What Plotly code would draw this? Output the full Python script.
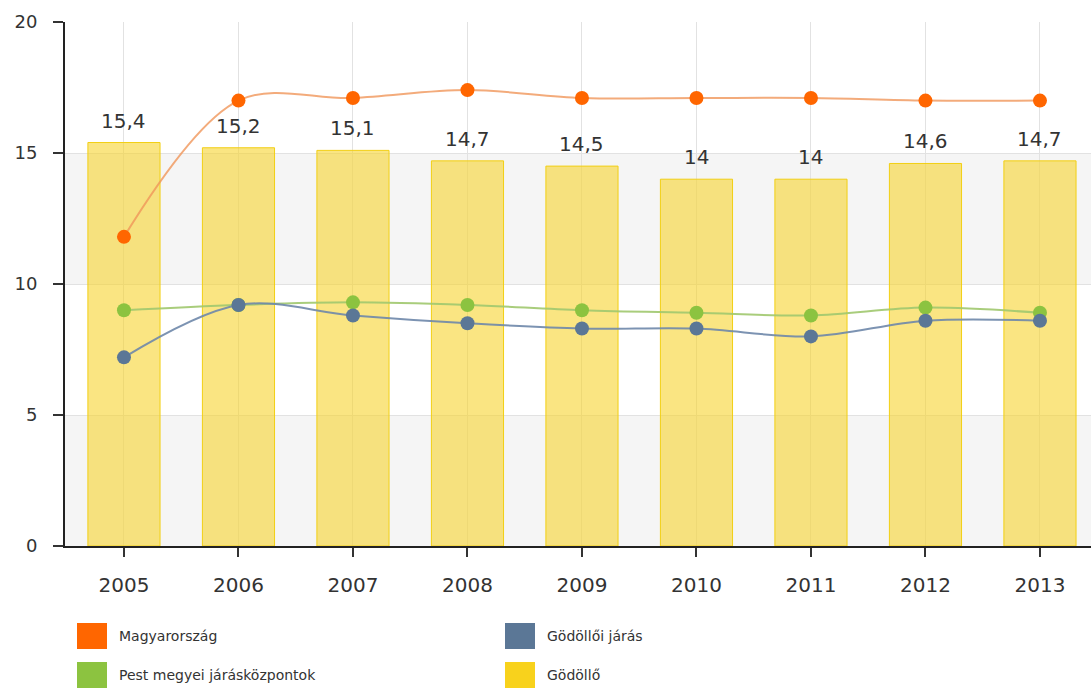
import plotly.graph_objects as go

years = ["2005", "2006", "2007", "2008", "2009", "2010", "2011", "2012", "2013"]
godollo = [15.4, 15.2, 15.1, 14.7, 14.5, 14.0, 14.0, 14.6, 14.7]
magyarorszag = [11.8, 17.0, 17.1, 17.4, 17.1, 17.1, 17.1, 17.0, 17.0]
pest_kozpontok = [9.0, 9.2, 9.3, 9.2, 9.0, 8.9, 8.8, 9.1, 8.9]
godolloi_jaras = [7.2, 9.2, 8.8, 8.5, 8.3, 8.3, 8.0, 8.6, 8.6]
y_ticks = [0, 5, 10, 15, 20]

legend_names = ["Magyarország", "Gödöllői járás", "Pest megyei járásközpontok", "Gödöllő"]
legend_colors = ["#ff6600", "#5b7796", "#8cc340", "#f8d21c"]

FONT = "DejaVu Sans"
W, H = 1091, 693
ML, MR, MT, MB = 65, 0, 22, 147
PW, PH = W - ML - MR, H - MT - MB
CAT = 114.5
X0 = -0.515


def fmt(v):
    return f"{v:g}".replace(".", ",")


fig = go.Figure()

fig.add_trace(go.Bar(
    x=years, y=godollo, name="Gödöllő", width=0.63,
    marker=dict(color="rgba(247,210,40,0.58)", line=dict(color="#f2cf14", width=1)),
    showlegend=False, hoverinfo="x+y",
))

line_series = [
    (magyarorszag, "Magyarország", "rgba(240,150,90,0.8)", "#ff6600"),
    (pest_kozpontok, "Pest megyei járásközpontok", "rgba(160,200,110,0.9)", "#8cc340"),
    (godolloi_jaras, "Gödöllői járás", "rgba(110,135,170,0.9)", "#5b7796"),
]
for vals, nm, lc, mc in line_series:
    fig.add_trace(go.Scatter(
        x=years, y=vals, name=nm, mode="lines+markers",
        line=dict(color=lc, width=2, shape="spline", smoothing=1),
        marker=dict(color=mc, size=14),
        showlegend=False,
    ))

# background stripes
shapes = []
for y0, y1 in [(0, 5), (10, 15)]:
    shapes.append(dict(type="rect", xref="paper", yref="y", x0=0, x1=1, y0=y0, y1=y1,
                       fillcolor="#f5f5f5", line=dict(width=0), layer="below"))

annotations = []
for i, v in enumerate(godollo):
    annotations.append(dict(x=i, y=v, xref="x", yref="y", text=fmt(v), showarrow=False,
                            yanchor="bottom", yshift=8,
                            font=dict(family=FONT, size=20, color="#333333")))


# legend (two columns), positions given in pixels
def px_x(p):
    return (p - ML) / PW


def px_y(p):
    return (H - MB - p) / PH


legend_pos = [(77, 623), (505, 623), (77, 662), (505, 662)]
for (lx, ly), nm, col in zip(legend_pos, legend_names, legend_colors):
    shapes.append(dict(type="rect", xref="paper", yref="paper",
                       x0=px_x(lx), x1=px_x(lx + 30), y0=px_y(ly + 26), y1=px_y(ly),
                       fillcolor=col, line=dict(width=0)))
    annotations.append(dict(xref="paper", yref="paper", x=px_x(lx + 40), y=px_y(ly + 13),
                            text=nm, showarrow=False, xanchor="left", yanchor="middle",
                            font=dict(family=FONT, size=14, color="#333333")))

fig.update_layout(
    width=W, height=H,
    margin=dict(l=ML, r=MR, t=MT, b=MB, autoexpand=False),
    paper_bgcolor="white", plot_bgcolor="white",
    barmode="overlay",
    shapes=shapes, annotations=annotations,
    showlegend=False,
    font=dict(family=FONT, color="#333333"),
)
fig.update_xaxes(
    type="category", range=[X0, X0 + PW / CAT], automargin=False,
    showgrid=True, gridcolor="#e2e2e2", gridwidth=1,
    showline=True, linecolor="#222222", linewidth=2,
    ticks="outside", ticklen=9, tickcolor="#333333", tickwidth=2,
    tickfont=dict(family=FONT, size=20, color="#333333"), ticklabelstandoff=11,
    zeroline=False,
)
fig.update_yaxes(
    range=[0, 20], tickvals=y_ticks, ticktext=[str(t) for t in y_ticks], automargin=False,
    showgrid=True, gridcolor="#e2e2e2", gridwidth=1,
    showline=True, linecolor="#222222", linewidth=2,
    ticks="outside", ticklen=10, tickcolor="#333333", tickwidth=2,
    tickfont=dict(family=FONT, size=18, color="#333333"), ticklabelstandoff=12,
    zeroline=False,
)

fig.write_html(
    "out.html",
    config={"displayModeBar": False},
    post_script="document.body.style.margin='0';document.body.style.overflow='hidden';",
)
